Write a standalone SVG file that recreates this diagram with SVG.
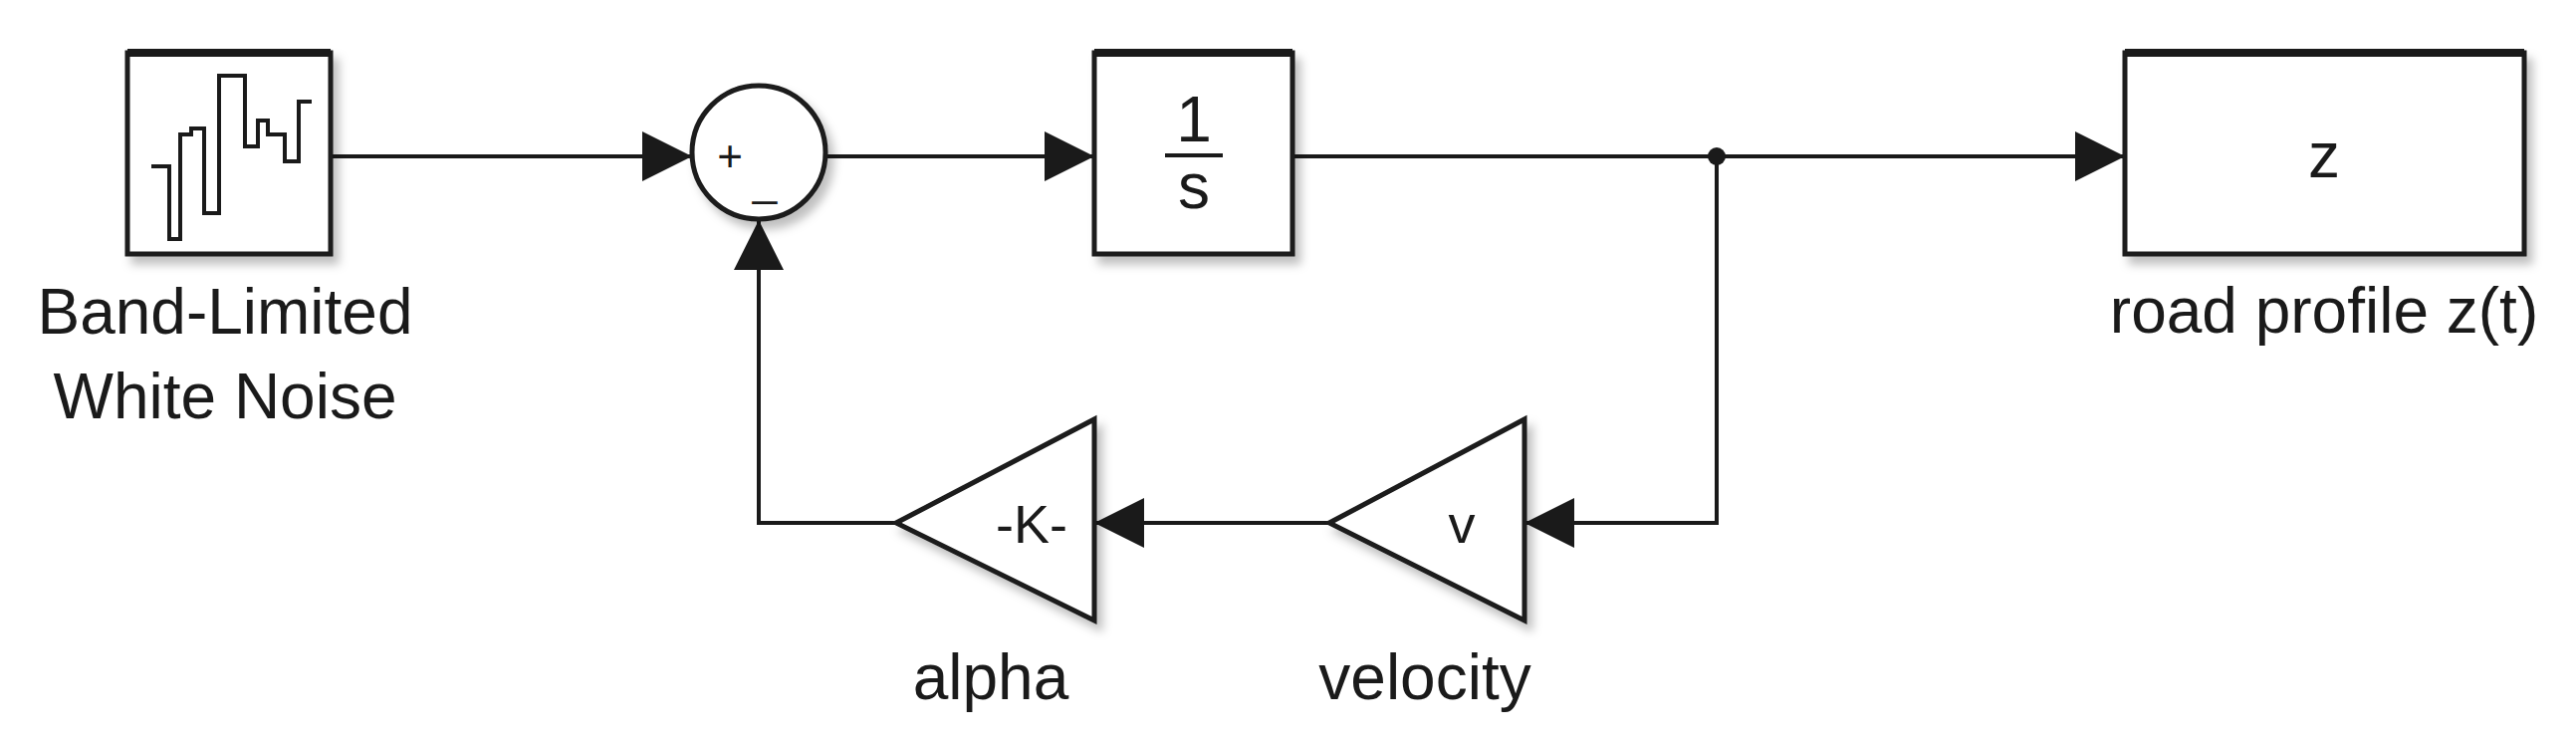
<svg xmlns="http://www.w3.org/2000/svg" width="2587" height="745" viewBox="0 0 2587 745">
<style>
.blk{fill:#fff;stroke:#1a1a1a;stroke-width:5;filter:url(#sh)}
.ln{fill:none;stroke:#1a1a1a;stroke-width:4}
.t{font-family:"Liberation Sans",Arial,sans-serif;fill:#1a1a1a;text-anchor:middle}
</style>
<defs>
<filter id="sh" x="-20%" y="-20%" width="150%" height="150%"><feDropShadow dx="6" dy="8" stdDeviation="5" flood-color="#000" flood-opacity="0.25"/></filter>
<marker id="a" viewBox="0 0 50 50" refX="50" refY="25" markerWidth="50" markerHeight="50" markerUnits="userSpaceOnUse" orient="auto"><path d="M0,0L50,25L0,50z" fill="#1a1a1a"/></marker>
</defs>
<g id="connectors">
<path class="ln" d="M332,157H695" marker-end="url(#a)"/>
<path class="ln" d="M829,157H1099" marker-end="url(#a)"/>
<path class="ln" d="M1298,157H2134" marker-end="url(#a)"/>
<path class="ln" d="M1724,157V525H1531" marker-end="url(#a)"/>
<path class="ln" d="M1335,525H1099" marker-end="url(#a)"/>
<path class="ln" d="M900,525H762V221" marker-end="url(#a)"/>
<circle cx="1724" cy="157" r="9" fill="#1a1a1a"/>
</g>
<g id="noise">
<rect class="blk" x="128" y="53" width="204" height="202"/>
<line x1="128" y1="53" x2="332" y2="53" stroke="#1a1a1a" stroke-width="8"/>
<polyline class="ln" points="152,167 170,167 170,240 181,240 181,135 192,135 192,129 205,129 205,214 220,214 220,76 246,76 246,147 259,147 259,121 269,121 269,135 286,135 286,162 300,162 300,102 313,102"/>
<text class="t" x="226" y="335" font-size="64">Band-Limited</text>
<text class="t" x="226" y="420" font-size="64">White Noise</text>
</g>
<g id="sum">
<circle class="blk" cx="762" cy="153" r="67"/>
<text class="t" x="733" y="172" font-size="44">+</text>
<text class="t" x="768" y="196" font-size="44">_</text>
</g>
<g id="integrator">
<rect class="blk" x="1099" y="53" width="199" height="202"/>
<line x1="1099" y1="53" x2="1298" y2="53" stroke="#1a1a1a" stroke-width="8"/>
<text class="t" x="1199" y="142" font-size="64">1</text>
<line x1="1170" y1="156" x2="1228" y2="156" stroke="#1a1a1a" stroke-width="4"/>
<text class="t" x="1199" y="209" font-size="64">s</text>
</g>
<g id="scope">
<rect class="blk" x="2134" y="53" width="401" height="202"/>
<line x1="2134" y1="53" x2="2535" y2="53" stroke="#1a1a1a" stroke-width="8"/>
<text class="t" x="2334" y="178" font-size="64">z</text>
<text class="t" x="2334" y="334" font-size="64">road profile z(t)</text>
</g>
<g id="velocity">
<polygon class="blk" points="1531,421 1531,623 1335,525"/>
<text class="t" x="1468" y="545" font-size="54">v</text>
<text class="t" x="1431" y="702" font-size="64">velocity</text>
</g>
<g id="alpha">
<polygon class="blk" points="1099,421 1099,623 900,525"/>
<text class="t" x="1036" y="545" font-size="54">-K-</text>
<text class="t" x="995" y="702" font-size="64">alpha</text>
</g>
</svg>
